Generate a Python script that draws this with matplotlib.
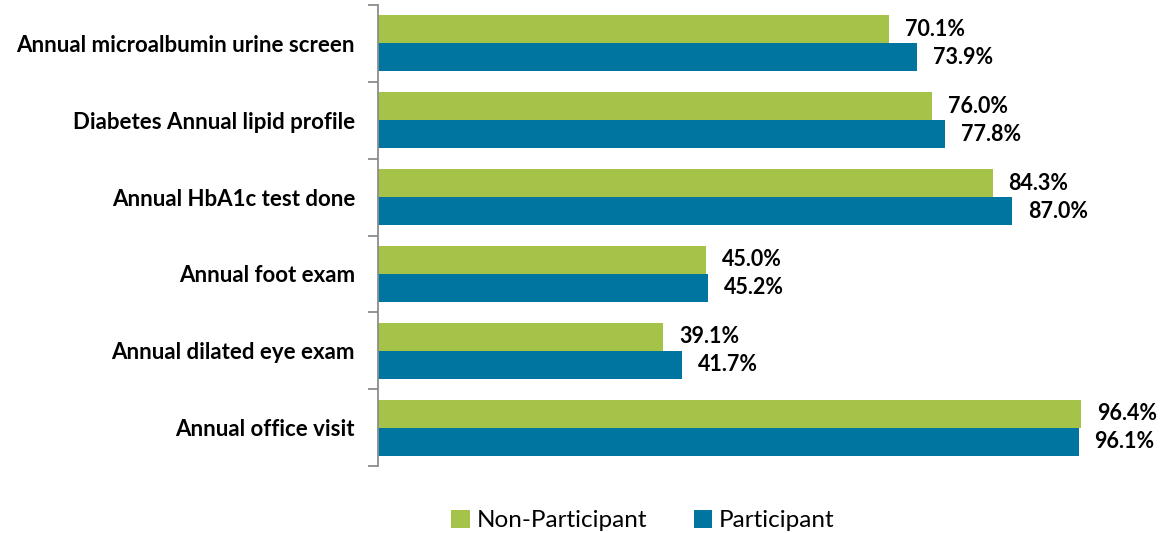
import matplotlib
matplotlib.use("Agg")
import matplotlib.pyplot as plt
import numpy as np

categories = ["Annual microalbumin urine screen", "Diabetes Annual lipid profile",
              "Annual HbA1c test done", "Annual foot exam",
              "Annual dilated eye exam", "Annual office visit"]
non_participant = [70.1, 76.0, 84.3, 45.0, 39.1, 96.4]
participant = [73.9, 77.8, 87.0, 45.2, 41.7, 96.1]
series_names = ["Non-Participant", "Participant"]

plt.rcParams['font.family'] = ['Lato', 'DejaVu Sans']
green = "#A5C249"
blue = "#00759F"

fig = plt.figure(figsize=(11.63, 5.33), dpi=100)
ax = fig.add_axes([378/1163, 1-466/533, (1107-378)/1163, (466-5)/533])

n = len(categories)
y = np.arange(n)
h = 0.365
ax.barh(y - h/2, non_participant, height=h, color=green, label=series_names[0])
ax.barh(y + h/2, participant, height=h, color=blue, label=series_names[1])
ax.set_ylim(n - 0.5, -0.5)
ax.set_xlim(0, 100)

for i in range(n):
    ax.text(non_participant[i] + 2.2, y[i] - h/2, f"{non_participant[i]:.1f}%",
            va='center', ha='left', fontsize=15.5, fontweight='bold', color='black')
    ax.text(participant[i] + 2.2, y[i] + h/2, f"{participant[i]:.1f}%",
            va='center', ha='left', fontsize=15.5, fontweight='bold', color='black')

ax.set_yticks(y)
ax.set_yticklabels(categories, fontsize=16, fontweight='bold')
ax.tick_params(axis='y', which='major', length=0, pad=16.5)
ax.set_yticks(np.arange(n + 1) - 0.5, minor=True)
ax.tick_params(axis='y', which='minor', length=7, width=1.3, color='#8c8c8c', direction='out')
ax.set_xticks([])
for s in ['top', 'right', 'bottom']:
    ax.spines[s].set_visible(False)
ax.spines['left'].set_color('#8c8c8c')
ax.spines['left'].set_linewidth(1.3)

fig.legend(loc='lower center', bbox_to_anchor=(0.553, -0.038), ncol=2, frameon=False,
           fontsize=17.5, handlelength=0.75, handleheight=0.75, handletextpad=0.3,
           columnspacing=1.9)

fig.savefig("out.png", dpi=100)
